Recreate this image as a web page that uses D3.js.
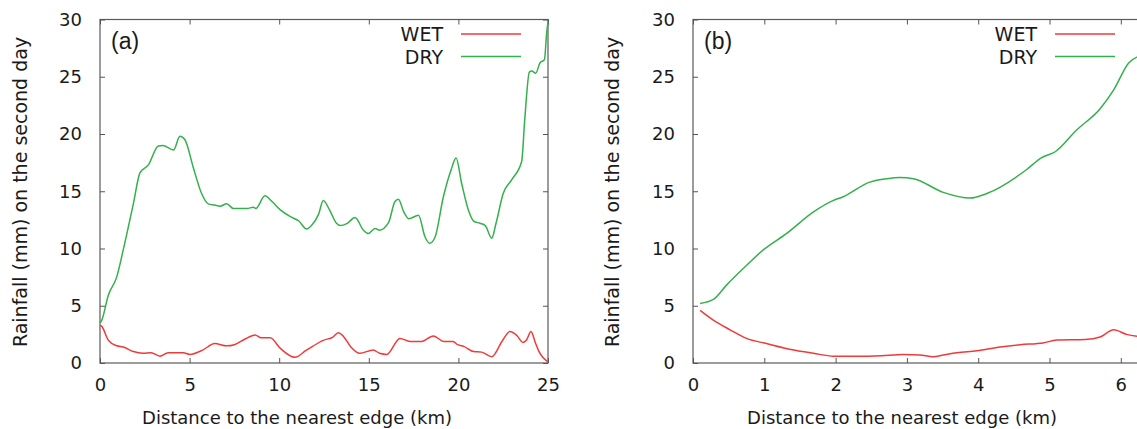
<!DOCTYPE html>
<html>
<head>
<meta charset="utf-8">
<script src="https://cdn.jsdelivr.net/npm/d3@7"></script>
<style>
  body { margin: 0; background: #fff; }
  svg text { font-family: "DejaVu Sans", sans-serif; fill: #1a1a1a; }
  .axis path { display: none; }
  .axis line { stroke: #555; }
  .frame { fill: none; stroke: #5a5a5a; stroke-width: 1.2; }
  .wet { fill: none; stroke: #f03a3a; stroke-width: 1.5; }
  .dry { fill: none; stroke: #34b04c; stroke-width: 1.5; }
</style>
</head>
<body>
<div id="graph"></div>
<script>
// panel (a): 0-25 km
let wetA = [
  [0, 3.3], [0.1, 3.2], [0.46, 2.0], [0.93, 1.5], [1.3, 1.4], [1.86, 1.0], [2.4, 0.85],
  [2.85, 0.9], [3.35, 0.6], [3.8, 0.9], [4.65, 0.9], [5.0, 0.75], [5.75, 1.15],
  [6.4, 1.7], [7.07, 1.5], [7.5, 1.6], [8.1, 2.1], [8.65, 2.45], [9.0, 2.2],
  [9.5, 2.2], [10.05, 1.3], [10.88, 0.5], [11.5, 1.1], [12.46, 1.98], [13.0, 2.27],
  [13.3, 2.65], [13.6, 2.3], [14.0, 1.4], [14.5, 0.85], [15.25, 1.13], [15.6, 0.85],
  [16.0, 0.75], [16.74, 2.15], [17.3, 1.88], [17.95, 1.88], [18.6, 2.36], [19.2, 1.88],
  [19.7, 1.88], [19.96, 1.6], [20.3, 1.45], [20.85, 1.0], [21.3, 0.95], [21.86, 0.55],
  [22.43, 1.88], [22.88, 2.75], [23.26, 2.4], [23.6, 1.8], [23.8, 2.0], [24.05, 2.75],
  [24.3, 1.75], [24.5, 1.0], [25, 0.1]
];
let dryA = [
  [0, 3.5], [0.1, 3.75], [0.46, 5.9], [0.93, 7.5], [1.3, 9.9], [1.86, 13.9], [2.23, 16.6],
  [2.7, 17.3], [3.25, 18.95], [3.5, 19.0], [4.1, 18.6], [4.46, 19.8], [4.74, 19.5],
  [5.2, 17.1], [5.67, 14.8], [6.04, 13.9], [6.4, 13.8], [6.7, 13.7], [7.07, 13.9],
  [7.44, 13.5], [8.2, 13.5], [8.56, 13.6], [8.7, 13.5], [9.2, 14.6], [9.6, 14.1],
  [10.05, 13.4], [10.6, 12.8], [11.1, 12.4], [11.53, 11.7], [11.8, 12.0], [12.2, 13.0],
  [12.46, 14.2], [12.8, 13.4], [13.2, 12.2], [13.4, 12.0], [13.8, 12.2], [14.23, 12.7],
  [14.7, 11.6], [14.97, 11.3], [15.35, 11.75], [15.6, 11.6], [16.1, 12.25], [16.46, 14.1],
  [16.65, 14.3], [16.95, 13.2], [17.24, 12.6], [17.77, 12.9], [18.14, 11.0], [18.4, 10.45],
  [18.7, 11.0], [19.16, 14.5], [19.6, 16.9], [19.87, 17.9], [20.18, 15.7], [20.57, 13.3],
  [20.85, 12.4], [21.2, 12.2], [21.5, 12.0], [21.86, 10.9], [22.1, 12.2], [22.5, 14.8],
  [22.97, 16.0], [23.53, 17.6], [23.7, 21.2], [23.96, 25.4], [24.1, 25.5], [24.31, 25.3],
  [24.55, 26.2], [24.8, 26.5], [24.93, 28.9], [25, 29.8]
];

// panel (b): 0-6.3 km
let wetB = [
  [0.1, 4.6], [0.285, 3.75], [0.52, 2.9], [0.75, 2.15], [1.03, 1.7], [1.41, 1.13],
  [1.69, 0.85], [1.97, 0.6], [2.39, 0.6], [2.81, 0.7], [2.95, 0.75], [3.18, 0.7],
  [3.37, 0.55], [3.51, 0.7], [3.7, 0.9], [3.98, 1.07], [4.31, 1.4], [4.59, 1.6],
  [4.91, 1.75], [5.1, 2.0], [5.5, 2.05], [5.71, 2.27], [5.9, 2.9], [6.08, 2.5], [6.3, 2.3]
];
let dryB = [
  [0.1, 5.2], [0.285, 5.55], [0.47, 6.8], [0.73, 8.4], [0.99, 9.9], [1.31, 11.3],
  [1.69, 13.2], [1.97, 14.2], [2.1, 14.5], [2.48, 15.8], [2.72, 16.1], [2.9, 16.2],
  [3.09, 16.1], [3.51, 14.9], [3.885, 14.4], [4.12, 14.8], [4.68, 16.9], [4.88, 17.9],
  [5.08, 18.45], [5.38, 20.35], [5.71, 22.2], [5.9, 23.85], [6.11, 26.2], [6.3, 26.9]
];

let yTicks = [0, 5, 10, 15, 20, 25, 30];
let xTicksA = [0, 5, 10, 15, 20, 25];
let xTicksB = [0, 1, 2, 3, 4, 5, 6];
let seriesNames = ["WET", "DRY"];

let svg = d3.select("#graph")
  .append("svg")
  .attr("width", 1137)
  .attr("height", 429);

let panels = [
  { tag: "(a)", wet: wetA, dry: dryA, xDomain: [0, 25], xRange: [100, 548], xTicks: xTicksA,
    yLabelX: 20, xLabelX: 297, legendX: 443 },
  { tag: "(b)", wet: wetB, dry: dryB, xDomain: [0, 6.3], xRange: [693, 1142.2], xTicks: xTicksB,
    yLabelX: 612, xLabelX: 902, legendX: 1037 }
];

let plotTop = 19.5, plotBottom = 363;

panels.forEach(p => {
  let x = d3.scaleLinear().domain(p.xDomain).range(p.xRange);
  let y = d3.scaleLinear().domain([0, 30]).range([plotBottom, plotTop]);
  let g = svg.append("g");

  g.append("rect")
   .attr("class", "frame")
   .attr("x", p.xRange[0])
   .attr("y", plotTop)
   .attr("width", p.xRange[1] - p.xRange[0])
   .attr("height", plotBottom - plotTop);

  g.append("g")
   .attr("class", "axis")
   .attr("transform", `translate(${p.xRange[0]},0)`)
   .call(d3.axisLeft(y).tickValues(yTicks).tickSize(-5).tickPadding(18))
   .selectAll("text").style("font-size", "18px");

  g.append("g")
   .attr("class", "axis")
   .attr("transform", `translate(${p.xRange[1]},0)`)
   .call(d3.axisRight(y).tickValues(yTicks).tickSize(-5).tickFormat(""));

  g.append("g")
   .attr("class", "axis")
   .attr("transform", `translate(0,${plotBottom})`)
   .call(d3.axisBottom(x).tickValues(p.xTicks).tickSize(-5).tickPadding(15).tickFormat(d3.format("d")))
   .selectAll("text").style("font-size", "18px");

  g.append("g")
   .attr("class", "axis")
   .attr("transform", `translate(0,${plotTop})`)
   .call(d3.axisTop(x).tickValues(p.xTicks).tickSize(-5).tickFormat(""));

  let line = d3.line().x(d => x(d[0])).y(d => y(d[1])).curve(d3.curveMonotoneX);

  g.append("path").datum(p.wet).attr("class", "wet").attr("d", line);
  g.append("path").datum(p.dry).attr("class", "dry").attr("d", line);

  // legend
  seriesNames.forEach((name, i) => {
    let ly = 34 + i * 22.5;
    g.append("text")
     .text(name)
     .attr("x", p.legendX)
     .attr("y", ly + 7)
     .attr("text-anchor", "end")
     .style("font-size", "19px");
    g.append("line")
     .attr("class", i === 0 ? "wet" : "dry")
     .attr("x1", p.legendX + 18)
     .attr("x2", p.legendX + 78)
     .attr("y1", ly)
     .attr("y2", ly);
  });

  g.append("text")
   .text(p.tag)
   .attr("x", p.xRange[0] + 11)
   .attr("y", 49)
   .style("font-family", "'Liberation Sans', Arial, sans-serif")
   .style("font-size", "23px");

  g.append("text")
   .text("Rainfall (mm) on the second day")
   .attr("transform", `translate(${p.yLabelX},192) rotate(-90)`)
   .attr("text-anchor", "middle")
   .attr("dy", "0.35em")
   .style("font-size", "19px");

  g.append("text")
   .text("Distance to the nearest edge (km)")
   .attr("x", p.xLabelX)
   .attr("y", 424)
   .attr("text-anchor", "middle")
   .style("font-size", "18px");
});
</script>
</body>
</html>
